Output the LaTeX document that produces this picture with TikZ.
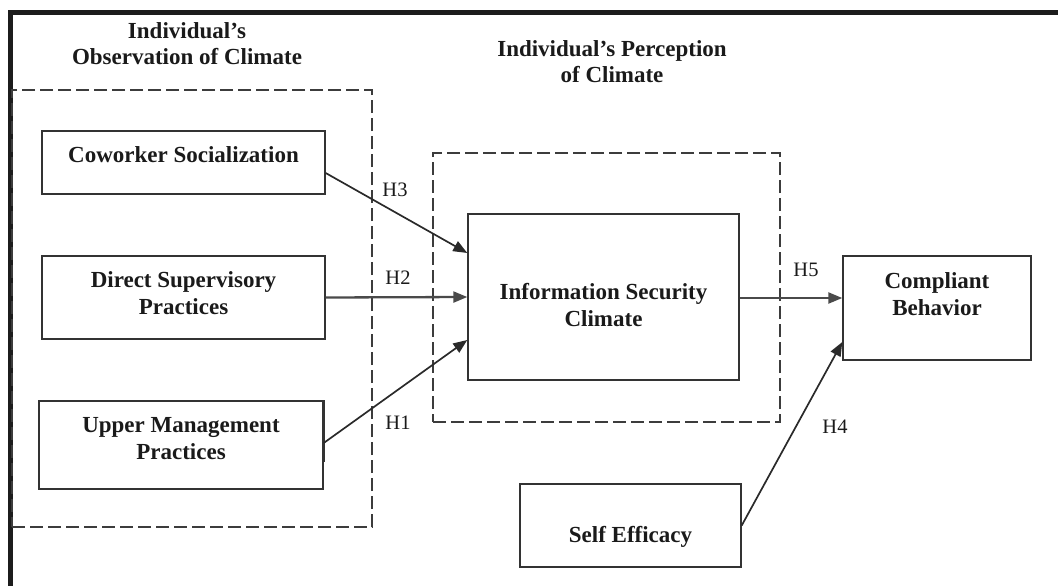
\documentclass[tikz,border=0pt]{standalone}
\usepackage{fontspec}
\setmainfont{Liberation Serif}
\usetikzlibrary{arrows.meta}
\definecolor{boxc}{HTML}{333333}
\definecolor{dashc}{HTML}{3C3C3C}
\definecolor{arrc}{HTML}{2A2A2A}
\definecolor{txtc}{HTML}{1A1A1A}
\definecolor{framec}{HTML}{1C1C1C}
\begin{document}
\begin{tikzpicture}[x=1pt,y=-1pt,
  box/.style={draw=boxc, line width=1.4pt, inner sep=0pt},
  grp/.style={draw=dashc, line width=1.3pt, dash pattern=on 13pt off 5pt, inner sep=0pt},
  lbl/.style={font=\fontsize{23}{26.5}\selectfont\bfseries, text=txtc, align=center, inner sep=0pt},
  hyp/.style={font=\fontsize{20.5}{23}\selectfont, text=txtc, inner sep=0pt},
  arr/.style={draw=arrc, line width=1.7pt, -{Triangle[length=14pt,width=11pt]}},
  harr/.style={arr, draw=arrc!85!white, line width=2.3pt}]
\useasboundingbox (0,0) rectangle (1058,586);
% frame (left and top)
\draw[line width=5pt, framec, line join=miter] (10.5,586) -- (10.5,12.5) -- (1058,12.5);
% groups
\node[grp, minimum width=360pt, minimum height=437pt] (obs) at (192,308.5) {};
\node[grp, minimum width=347pt, minimum height=269pt] (per) at (606.5,287.5) {};
% boxes
\node[box, minimum width=283pt, minimum height=63pt] (cow) at (183.5,162.5) {};
\node[box, minimum width=283pt, minimum height=83pt] (dir) at (183.5,297.5) {};
\node[box, minimum width=284pt, minimum height=88pt] (upp) at (181,445) {};
\node[box, minimum width=271pt, minimum height=166pt] (isc) at (603.5,297) {};
\node[box, minimum width=188pt, minimum height=104pt] (comp) at (937,308) {};
\node[box, minimum width=221pt, minimum height=83pt] (se) at (630.5,525.5) {};
\draw[line width=2.4pt, boxc] (upp.north east) -- ([yshift=-62pt]upp.north east);
% texts
\node[lbl] (obsT) at (187,43.5) {Individual's\\Observation of Climate};
\node[lbl] (perT) at (612,61.5) {Individual's Perception\\of Climate};
\node[lbl] (cowT) at (183.5,155) {Coworker Socialization};
\node[lbl] (dirT) at (183.5,293) {Direct Supervisory\\Practices};
\node[lbl] (uppT) at (181,438.5) {Upper Management\\Practices};
\node[lbl] (iscT) at (603.5,305) {Information Security\\Climate};
\node[lbl] (compT) at (937,294) {Compliant\\Behavior};
\node[lbl] (seT) at (630.5,537) {Self Efficacy};
% arrows
\draw[arr] ([yshift=-10.5pt]cow.east) -- ([yshift=44pt]isc.west);
\draw[harr] (dir.east) -- (isc.west);
\draw[arr] ([yshift=2pt]upp.east) -- ([yshift=-43pt]isc.west);
\draw[harr] ([yshift=-1pt]isc.east) -- ([yshift=10pt]comp.west);
\draw[arr] (se.east) -- ([yshift=-34pt]comp.west);
% hypothesis labels
\node[hyp] (h3) at (395,190) {H3};
\node[hyp] (h2) at (398,278) {H2};
\node[hyp] (h1) at (398,423) {H1};
\node[hyp] (h5) at (806,270) {H5};
\node[hyp] (h4) at (835,427) {H4};
\end{tikzpicture}
\end{document}
